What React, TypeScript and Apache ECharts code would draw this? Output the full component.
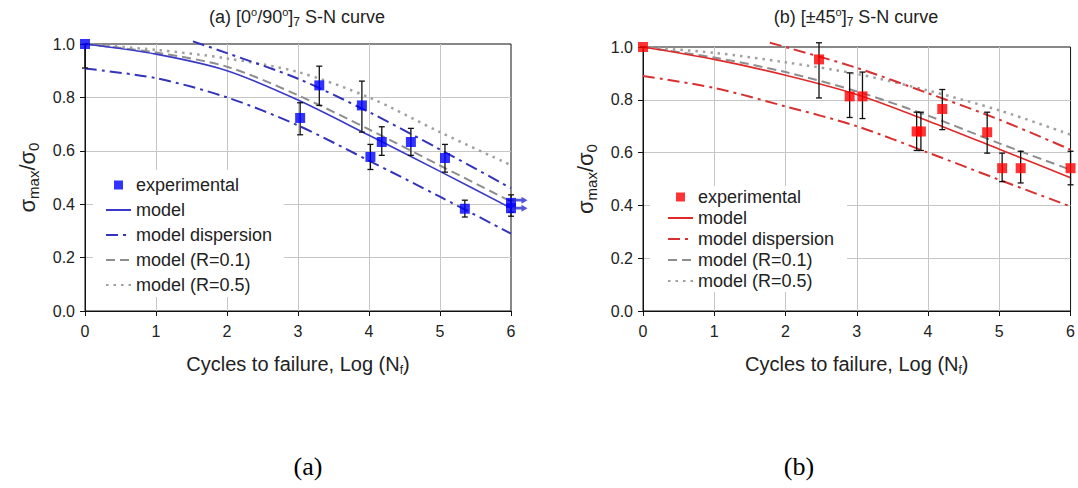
import React, { useEffect, useRef } from "react";
import * as echarts from "echarts";

const FONT = "'Liberation Sans', Arial, Helvetica, sans-serif";
const SERIF = "'Liberation Serif', 'Times New Roman', serif";

// ---- (a) [0/90]7 ----
const aExpX = [0, 3.03, 3.3, 3.9, 4.02, 4.18, 4.59, 5.07, 5.35, 6.0, 6.0];
const aExpY = [1.0, 0.723, 0.845, 0.77, 0.577, 0.633, 0.633, 0.573, 0.383, 0.405, 0.385];
const aExpLo = [0.91, 0.66, 0.77, 0.67, 0.53, 0.583, 0.583, 0.52, 0.352, 0.37, 0.355];
const aExpHi = [1.0, 0.78, 0.917, 0.861, 0.624, 0.69, 0.684, 0.624, 0.415, 0.435, 0.415];
const aRunoutY = [0.415, 0.385];

const curveX = [0, 1, 2, 3, 4, 5, 6];
const aModel = [1.0, 0.962, 0.9, 0.79, 0.658, 0.523, 0.385];
const aR01 = [1.0, 0.968, 0.915, 0.808, 0.68, 0.545, 0.41];
const aR05 = [1.0, 0.978, 0.946, 0.895, 0.8, 0.67, 0.546];
const aDispHiX = [1.52, 2, 3, 4, 5, 6];
const aDispHi = [1.01, 0.966, 0.87, 0.745, 0.605, 0.46];
const aDispLo = [0.908, 0.872, 0.8, 0.695, 0.563, 0.428, 0.29];

// ---- (b) [±45]7 ----
const bExpX = [0, 2.47, 2.9, 3.08, 3.84, 3.9, 4.2, 4.83, 5.04, 5.3, 6.0];
const bExpY = [1.0, 0.953, 0.813, 0.813, 0.68, 0.68, 0.765, 0.677, 0.541, 0.541, 0.541];
const bExpLo = [1.0, 0.807, 0.733, 0.729, 0.608, 0.608, 0.687, 0.598, 0.49, 0.485, 0.478];
const bExpHi = [1.0, 1.016, 0.902, 0.905, 0.753, 0.753, 0.839, 0.753, 0.598, 0.605, 0.605];

const bModel = [1.0, 0.953, 0.893, 0.82, 0.72, 0.613, 0.505];
const bR01 = [1.0, 0.96, 0.905, 0.832, 0.74, 0.635, 0.535];
const bR05 = [1.0, 0.978, 0.942, 0.898, 0.835, 0.76, 0.668];
const bDispHiX = [1.78, 2, 3, 4, 5, 6];
const bDispHi = [1.016, 1.0, 0.921, 0.825, 0.725, 0.611];
const bDispLo = [0.89, 0.845, 0.775, 0.7, 0.6, 0.497, 0.396];

const LEGEND_NAMES = ["experimental", "model", "model dispersion", "model (R=0.1)", "model (R=0.5)"];

const zip = (xs: number[], ys: number[]) => xs.map((x, i) => [x, ys[i]]);

function buildChartSeries(
  idx: number,
  prefix: string,
  c: { marker: string; line: string; disp: string },
  d: {
    ex: number[]; ey: number[]; lo: number[]; hi: number[];
    model: number[]; r01: number[]; r05: number[];
    dhx: number[]; dh: number[]; dl: number[];
  }
) {
  const common = {
    xAxisIndex: idx, yAxisIndex: idx, symbol: "none", smooth: 0.3,
    clip: false, silent: true,
  };
  return [
    {
      ...common, type: "line", name: prefix + "model (R=0.5)", z: 2,
      data: zip(curveX, d.r05),
      lineStyle: { color: "#a0a0a0", width: 2.5, type: [2.5, 5] },
      itemStyle: { color: "#a0a0a0" },
    },
    {
      ...common, type: "line", name: prefix + "model (R=0.1)", z: 2,
      data: zip(curveX, d.r01),
      lineStyle: { color: "#8e8e8e", width: 2, type: [9, 5] },
      itemStyle: { color: "#8e8e8e" },
    },
    {
      ...common, type: "line", name: prefix + "model dispersion", z: 2,
      data: zip(d.dhx, d.dh),
      lineStyle: { color: c.disp, width: 2, type: [12, 5, 3, 5] },
      itemStyle: { color: c.disp },
    },
    {
      ...common, type: "line", name: prefix + "model dispersion", z: 2,
      data: zip(curveX, d.dl),
      lineStyle: { color: c.disp, width: 2, type: [12, 5, 3, 5] },
      itemStyle: { color: c.disp },
    },
    {
      ...common, type: "line", name: prefix + "model", z: 3,
      data: zip(curveX, d.model),
      lineStyle: { color: c.line, width: 1.6, type: "solid" },
      itemStyle: { color: c.line },
    },
    {
      type: "custom", name: prefix + "errorbars", xAxisIndex: idx, yAxisIndex: idx, z: 4, silent: true,
      data: d.ex.map((x, i) => [x, d.lo[i], d.hi[i]]),
      encode: { x: 0, y: [1, 2] },
      renderItem: (params: any, api: any) => {
        const x = api.value(0);
        const p1 = api.coord([x, api.value(2)]);
        const p2 = api.coord([x, api.value(1)]);
        const w = 3;
        const st = { stroke: "#111", lineWidth: 1.3 };
        return {
          type: "group",
          children: [
            { type: "line", shape: { x1: p1[0], y1: p1[1], x2: p2[0], y2: p2[1] }, style: st },
            { type: "line", shape: { x1: p1[0] - w, y1: p1[1], x2: p1[0] + w, y2: p1[1] }, style: st },
            { type: "line", shape: { x1: p2[0] - w, y1: p2[1], x2: p2[0] + w, y2: p2[1] }, style: st },
          ],
        };
      },
    },
    {
      type: "scatter", name: prefix + "experimental", xAxisIndex: idx, yAxisIndex: idx, z: 5, clip: false, silent: true,
      symbol: "rect", symbolSize: 10,
      data: zip(d.ex, d.ey),
      itemStyle: { color: c.marker },
    },
  ];
}

function makeAxes(idx: number) {
  const axisLine = { show: true, onZero: false, lineStyle: { color: "#111", width: 1 } };
  const axisTick = { show: true, inside: false, length: 5, lineStyle: { color: "#111", width: 1 } };
  const splitLine = { show: true, showMinLine: false, showMaxLine: false, lineStyle: { color: "#c6c6c6", width: 1 } };
  const x = {
    type: "value", gridIndex: idx, min: 0, max: 6, interval: 1,
    axisLine, axisTick, splitLine,
    axisLabel: { fontSize: 16, color: "#222", fontFamily: FONT, margin: 12 },
    name: "{a|Cycles to failure, Log (N}{s|f}{a|)}",
    nameLocation: "middle", nameGap: 41,
    nameTextStyle: {
      rich: {
        a: { fontSize: 20, fontFamily: FONT, color: "#222", lineHeight: 24 },
        s: { fontSize: 12, fontFamily: FONT, color: "#222", verticalAlign: "bottom", lineHeight: 24 },
      },
    },
  };
  const y = {
    type: "value", gridIndex: idx, min: 0, max: 1, interval: 0.2,
    axisLine, axisTick, splitLine,
    axisLabel: { fontSize: 16, color: "#222", fontFamily: FONT, margin: 10, formatter: (v: number) => v.toFixed(1) },
    name: "{a|σ}{s|max}{a|/σ}{s|0}",
    nameLocation: "middle", nameGap: 44, nameRotate: 90,
    nameTextStyle: {
      rich: {
        a: { fontSize: 22, fontFamily: FONT, color: "#222", lineHeight: 28 },
        s: { fontSize: 15, fontFamily: FONT, color: "#222", verticalAlign: "bottom", lineHeight: 28 },
      },
    },
  };
  return { x, y };
}

function makeLegend(prefix: string, left: number, top: number, gap: number, padding: number[]) {
  return {
    orient: "vertical", left, top, itemGap: gap, itemWidth: 25, itemHeight: 9,
    padding, backgroundColor: "#ffffff", selectedMode: false,
    data: LEGEND_NAMES.map((n) =>
      n === "experimental"
        ? { name: prefix + n, icon: "path://M0,0 L10,0 L10,10 L0,10 Z" }
        : { name: prefix + n, itemStyle: { color: "transparent", borderColor: "transparent", borderWidth: 0 } }
    ),
    formatter: (n: string) => n.slice(prefix.length),
    textStyle: { fontSize: 18, color: "#222", fontFamily: FONT },
  };
}

function titleText(x: number, text: string) {
  return {
    type: "text", x, y: 17, z: 10,
    style: {
      text,
      align: "center", verticalAlign: "middle",
      rich: {
        a: { fontSize: 18, fontFamily: FONT, fill: "#222", lineHeight: 22 },
        p: { fontSize: 11, fontFamily: FONT, fill: "#222", verticalAlign: "top", lineHeight: 22 },
        b: { fontSize: 12, fontFamily: FONT, fill: "#222", verticalAlign: "bottom", lineHeight: 22 },
      },
    },
  };
}

export default function App() {
  const ref = useRef<HTMLDivElement>(null);
  useEffect(() => {
    document.body.style.margin = "0";
    if (!ref.current) return;
    const chart = echarts.init(ref.current, undefined, { renderer: "svg" });
    const axA = makeAxes(0);
    const axB = makeAxes(1);
    const option: any = {
      animation: false,
      backgroundColor: "#ffffff",
      grid: [
        { left: 85, top: 44, width: 426, height: 267, show: true, borderColor: "#111", borderWidth: 1, backgroundColor: "transparent" },
        { left: 643, top: 47, width: 428, height: 264, show: true, borderColor: "#111", borderWidth: 1, backgroundColor: "transparent" },
      ],
      xAxis: [axA.x, axB.x],
      yAxis: [axA.y, axB.y],
      legend: [
        makeLegend("a:", 93, 170, 7, [6, 12, 3, 12]),
        makeLegend("b:", 650, 186, 3, [2, 13, 2, 17]),
      ],
      series: [
        ...buildChartSeries(0, "a:", { marker: "#0000ff", line: "#3a3ac8", disp: "#3333bb" }, {
          ex: aExpX, ey: aExpY, lo: aExpLo, hi: aExpHi,
          model: aModel, r01: aR01, r05: aR05, dhx: aDispHiX, dh: aDispHi, dl: aDispLo,
        }),
        {
          type: "scatter", name: "a:runout", xAxisIndex: 0, yAxisIndex: 0, z: 5, clip: false, silent: true,
          symbol: "path://M0,3 L9,3 L9,0 L15,5 L9,10 L9,7 L0,7 Z",
          symbolSize: [15, 7], symbolOffset: [9, 0],
          data: aRunoutY.map((y) => [6, y]),
          itemStyle: { color: "#2b2bd0" },
        },
        ...buildChartSeries(1, "b:", { marker: "#ff0000", line: "#e02828", disp: "#d83030" }, {
          ex: bExpX, ey: bExpY, lo: bExpLo, hi: bExpHi,
          model: bModel, r01: bR01, r05: bR05, dhx: bDispHiX, dh: bDispHi, dl: bDispLo,
        }),
      ],
      graphic: [
        titleText(297, "{a|(a) [0}{p|o}{a|/90}{p|o}{a|]}{b|7}{a| S-N curve}"),
        titleText(856, "{a|(b) [±45}{p|o}{a|]}{b|7}{a| S-N curve}"),
        {
          type: "text", x: 308, y: 466,
          style: { text: "(a)", fontSize: 26, fontFamily: SERIF, fill: "#000", align: "center", verticalAlign: "middle" },
        },
        {
          type: "text", x: 799, y: 466,
          style: { text: "(b)", fontSize: 26, fontFamily: SERIF, fill: "#000", align: "center", verticalAlign: "middle" },
        },
      ],
    };
    chart.setOption(option);
    return () => chart.dispose();
  }, []);
  return <div ref={ref} style={{ width: 1078, height: 488 }} />;
}
